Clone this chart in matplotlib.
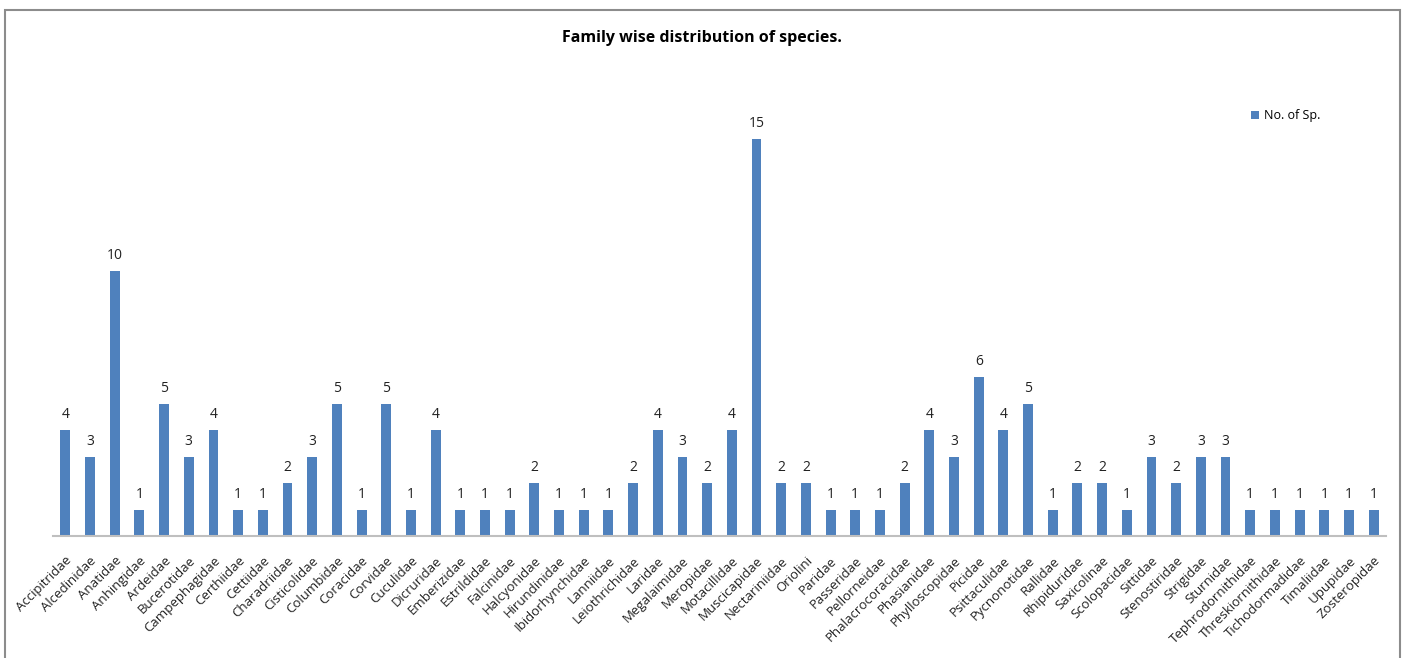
import matplotlib.pyplot as plt
from matplotlib.patches import Rectangle

plt.rcParams['font.family'] = ['Open Sans', 'DejaVu Sans']

families = ['Accipitridae', 'Alcedinidae', 'Anatidae', 'Anhingidae', 'Ardeidae',
            'Bucerotidae', 'Campephagidae', 'Certhiidae', 'Cettiidae', 'Charadriidae',
            'Cisticolidae', 'Columbidae', 'Coracidae', 'Corvidae', 'Cuculidae',
            'Dicruridae', 'Emberizidae', 'Estrildidae', 'Falcinidae', 'Halcyonidae',
            'Hirundinidae', 'Ibidorhynchidae', 'Lanniidae', 'Leiothrichidae', 'Laridae',
            'Megalaimidae', 'Meropidae', 'Motacillidae', 'Muscicapidae', 'Nectariniidae',
            'Oriolini', 'Paridae', 'Passeridae', 'Pellorneidae', 'Phalacrocoracidae',
            'Phasianidae', 'Phylloscopidae', 'Picidae', 'Psittaculidae', 'Pycnonotidae',
            'Rallidae', 'Rhipiduridae', 'Saxicolinae', 'Scolopacidae', 'Sittidae',
            'Stenostiridae', 'Strigidae', 'Sturnidae', 'Tephrodornithidae', 'Threskiornithidae',
            'Tichodormadidae', 'Timaliidae', 'Upupidae', 'Zosteropidae']
n_species = [4, 3, 10, 1, 5, 3, 4, 1, 1, 2,
             3, 5, 1, 5, 1, 4, 1, 1, 1, 2,
             1, 1, 1, 2, 4, 3, 2, 4, 15, 2,
             2, 1, 1, 1, 2, 4, 3, 6, 4, 5,
             1, 2, 2, 1, 3, 2, 3, 3, 1, 1,
             1, 1, 1, 1]

fig = plt.figure(figsize=(14.04, 6.58), dpi=100)
# outer chart border
fig.patches.append(Rectangle((5 / 1404, -0.05), 1395 / 1404, 1.05 - 10 / 658,
                             transform=fig.transFigure, fill=False,
                             edgecolor='#8c8c8c', linewidth=1.5))

ax = fig.add_axes([53 / 1404, 122 / 658, 1333 / 1404, 477 / 658])
x = range(len(families))
bars = ax.bar(x, n_species, width=0.4, color='#4f81bd', label='No. of Sp.')
for xi, v in zip(x, n_species):
    ax.text(xi, v + 0.3, str(v), ha='center', va='bottom', fontsize=10, color='#222222')

ax.set_xlim(-0.5, len(families) - 0.5)
ax.set_ylim(0, 18)
ax.set_xticks(list(x))
ax.set_xticklabels(families, rotation=45, ha='right', rotation_mode='anchor',
                   fontsize=9.5, color='#222222')
ax.tick_params(axis='x', length=0, pad=13)
ax.set_yticks([])
for s in ['top', 'right', 'left']:
    ax.spines[s].set_visible(False)
ax.spines['bottom'].set_color('#bfbfbf')
ax.spines['bottom'].set_linewidth(1.5)

fig.text(0.5, 1 - 38 / 658, 'Family wise distribution of species.', ha='center',
         va='center', fontsize=11.5, fontweight='bold')
fig.legend(handles=[bars], labels=['No. of Sp.'], loc='center left',
           bbox_to_anchor=(1240 / 1404, 1 - 116 / 658), frameon=False, fontsize=9,
           handlelength=0.6, handleheight=0.6, handletextpad=0.4)

fig.savefig('out.png', dpi=100)
